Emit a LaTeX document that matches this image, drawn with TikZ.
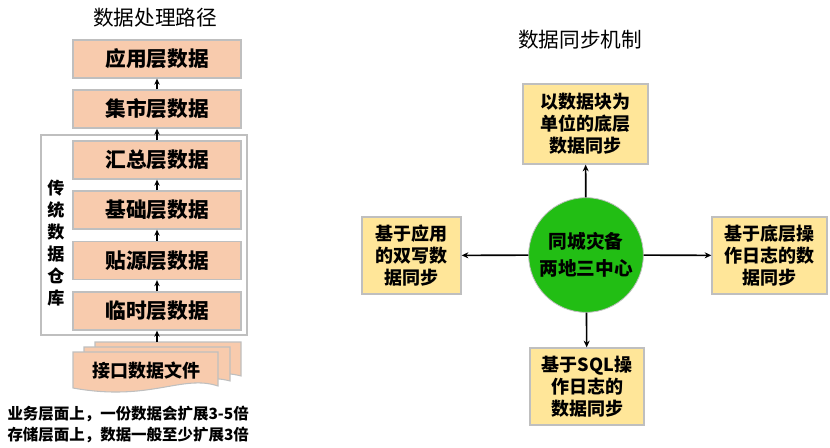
\documentclass[tikz,border=0pt]{standalone}
\usepackage{fontspec}
\setmainfont{Noto Sans CJK SC}
\usetikzlibrary{arrows.meta}

\definecolor{peach}{RGB}{248,203,173}
\definecolor{sand}{RGB}{255,230,153}
\definecolor{leaf}{RGB}{34,190,20}
\definecolor{edgegray}{RGB}{191,191,191}

\tikzset{every picture/.style={line width=0.75pt}}
\tikzset{
	layerbox/.style={draw=edgegray, fill=peach, line width=1pt, minimum width=126pt, minimum height=28.5pt, inner sep=0pt, font=\bfseries\fontsize{15.5}{18}\selectfont},
	syncbox/.style={draw=edgegray, fill=sand, line width=1pt, inner sep=0pt, align=center, font=\bfseries\fontsize{13.5}{16.5}\selectfont},
	docshape/.style={draw=edgegray, fill=peach, line width=0.8pt},
	uparrow/.style={-{Stealth[length=4.5pt,width=4pt]}, line width=1.3pt},
	syncarrow/.style={-{Stealth[length=5pt,width=4.5pt,open]}, line width=1.2pt},
	titletext/.style={font=\fontsize{15.5}{18}\selectfont},
	notetext/.style={anchor=west, inner sep=0pt, font=\bfseries\fontsize{11.6}{14}\selectfont}}

\begin{document}
\begin{tikzpicture}[x=0.75pt,y=0.75pt,yscale=-1,xscale=1]
	\useasboundingbox (0,0) rectangle (830,448);

	% Text Node
	\node[titletext] (lefttitle) at (155,18) {数据处理路径};
	% Text Node
	\node[titletext] (righttitle) at (580,40) {数据同步机制};

	%Shape: Rectangle [traditional warehouse frame]
	\draw [draw=edgegray, line width=1pt] (41,135) rectangle (247,335);
	% Text Node
	\node[align=center, font=\bfseries\fontsize{12.8}{16.5}\selectfont] (dwlabel) at (56,243) {传\\统\\数\\据\\仓\\库};

	% layer boxes
	\node[layerbox] (app) at (157,59) {应用层数据};
	\node[layerbox] (mart) at (157,109) {集市层数据};
	\node[layerbox] (summ) at (157,160) {汇总层数据};
	\node[layerbox] (base) at (157,210) {基础层数据};
	\node[layerbox] (ods) at (157,260.5) {贴源层数据};
	\node[layerbox] (tmp) at (157,311) {临时层数据};

	%Shape: Multidocument [interface files]
	\draw [docshape] (95,342) -- (241,342) -- (241,376) .. controls (205,366) and (175,392) .. (95,378) -- cycle ;
	\draw [docshape] (84,347) -- (230,347) -- (230,381) .. controls (194,371) and (164,397) .. (84,383) -- cycle ;
	\draw [docshape] (73,352) -- (218,352) -- (218,386) .. controls (182,374) and (150,402) .. (73,388) -- cycle ;
	% Text Node
	\node[font=\bfseries\fontsize{13.5}{16}\selectfont] (ifile) at (146,371) {接口数据文件};
	\coordinate (ifiletop) at (157,342);

	% arrows up the stack
	\draw[uparrow] (ifiletop) -- (tmp);
	\draw[uparrow] (tmp) -- (ods);
	\draw[uparrow] (ods) -- (base);
	\draw[uparrow] (base) -- (summ);
	\draw[uparrow] (summ) -- (mart);
	\draw[uparrow] (mart) -- (app);

	% Text Node
	\node[notetext] (note1) at (7,414) {业务层面上，一份数据会扩展3-5倍};
	% Text Node
	\node[notetext] (note2) at (7,435) {存储层面上，数据一般至少扩展3倍};

	%Shape: Circle [hub]
	\node[circle, fill=leaf, draw=edgegray, line width=0.6pt, minimum size=86pt, inner sep=0pt, align=center, font=\bfseries\fontsize{14}{20.5}\selectfont] (hub) at (586,255) {同城灾备\\两地三中心};

	% sync boxes
	\node[syncbox, minimum width=93.75pt, minimum height=60pt] (blocksync) at (585.5,124) {以数据块为\\单位的底层\\数据同步};
	\node[syncbox, minimum width=74.25pt, minimum height=57.75pt] (appsync) at (411.5,255.5) {基于应用\\的双写数\\据同步};
	\node[syncbox, minimum width=86.25pt, minimum height=57.75pt] (logsync) at (769.5,255.5) {基于底层操\\作日志的数\\据同步};
	\node[syncbox, minimum width=85.5pt, minimum height=57.75pt] (sqlsync) at (587,386.5) {基于SQL操\\作日志的\\数据同步};

	% arrows from hub
	\draw[syncarrow] (hub) -- (blocksync);
	\draw[syncarrow] (hub) -- (appsync);
	\draw[syncarrow] (hub) -- (logsync);
	\draw[syncarrow] (hub) -- (sqlsync);

\end{tikzpicture}
\end{document}
